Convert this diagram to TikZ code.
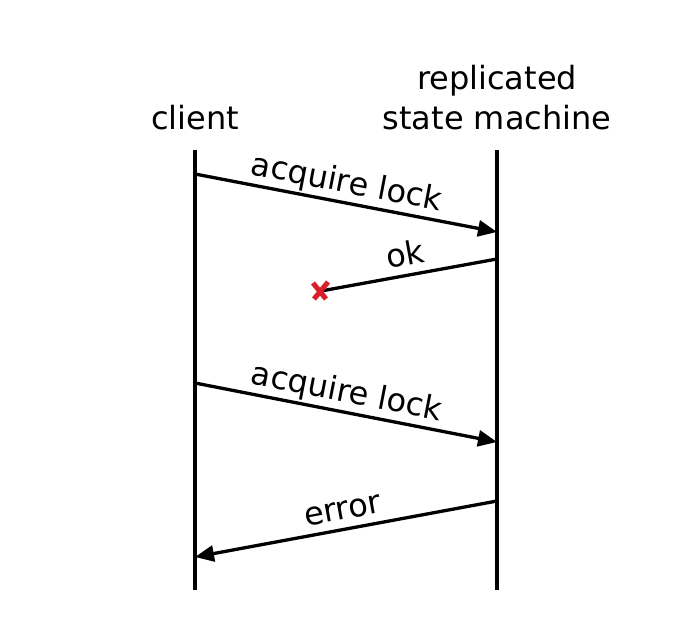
\documentclass[tikz,border=0pt]{standalone}
\usepackage{fontspec}
\setmainfont{DejaVu Sans}
\usetikzlibrary{arrows.meta}
\definecolor{xred}{HTML}{D8202A}
\begin{document}
\begin{tikzpicture}[x=1pt,y=-1pt,
  every node/.style={font=\fontsize{32}{40}\selectfont},
  life/.style={line width=3.3pt},
  msg/.style={line width=3.3pt,-{Triangle[length=19pt,width=16pt]}},
  lostmsg/.style={line width=3.3pt},
  redx/.style={line width=5pt,xred},
  lbl/.style={sloped,above,inner sep=0pt,yshift=6pt,text height=0.76em,text depth=0.24em},
  hdr/.style={anchor=base,inner sep=0pt}]
\useasboundingbox (0,0) rectangle (676,636);
% headers
\node[hdr] (client) at (195,130) {client};
\node[hdr] (rsm1) at (497,90) {replicated};
\node[hdr] (rsm2) at (497,130) {state machine};
% lifelines
\coordinate (ct) at (195,150);
\coordinate (cb) at (195,590);
\coordinate (st) at (497,150);
\coordinate (sb) at (497,590);
\draw[life] (ct) -- (cb);
\draw[life] (st) -- (sb);
% message anchor points
\coordinate (c1) at (195,174);
\coordinate (s1) at (497,232);
\coordinate (s2) at (497,259);
\coordinate (c3) at (195,383);
\coordinate (s3) at (497,442);
\coordinate (s4) at (497,501);
\coordinate (c4) at (195,557);
\coordinate (lost) at (321,291);
\draw[lostmsg] (s2) -- node[lbl] {ok} (lost);
\draw[redx] ([shift={(-8,-8)}]lost) -- ([shift={(5,8)}]lost);
\draw[redx] ([shift={(7,-9)}]lost) -- ([shift={(-7,8)}]lost);
\draw[msg] (c1) -- node[lbl,pos=0.49] {acquire lock} (s1);
\draw[msg] (c3) -- node[lbl,pos=0.49] {acquire lock} (s3);
\draw[msg] (s4) -- node[lbl] {error} (c4);
\end{tikzpicture}
\end{document}
